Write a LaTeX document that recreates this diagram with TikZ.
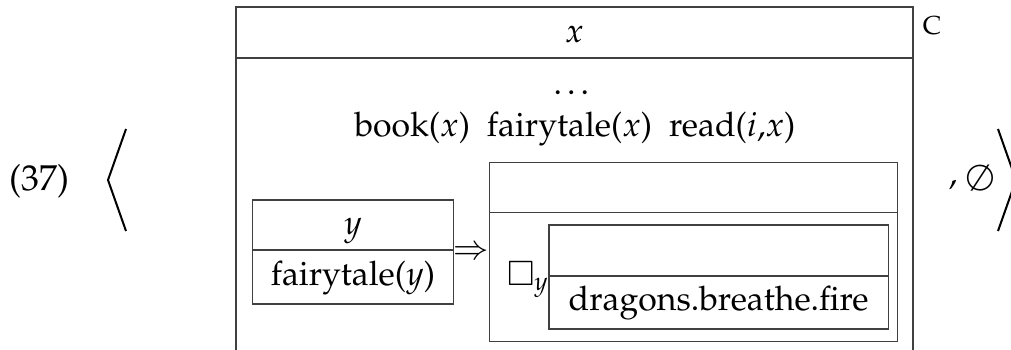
\documentclass[tikz,border=0pt]{standalone}
\usepackage[T1]{fontenc}
\usepackage{mathpazo}
\usepackage{amssymb}
\begin{document}
\begin{tikzpicture}[x=1pt,y=-1pt,
  box/.style={draw=black!75, line width=1.2pt, inner sep=0pt, outer sep=0pt},
  sep/.style={draw=black!75, line width=1.2pt},
  brk/.style={draw=black, line width=2pt, line join=miter},
  txt/.style={inner sep=0pt, outer sep=0pt, font=\fontsize{33.8}{40}\selectfont},
  small/.style={inner sep=0pt, outer sep=0pt, font=\fontsize{26}{30}\selectfont}]
\useasboundingbox (0,0) rectangle (1011,350);
\clip (0,0) rectangle (1011,350);
% outer box (open at the bottom)
\node[box, minimum width=677pt, minimum height=360pt, anchor=north west] (outer) at (236,7) {};
\coordinate (odl) at (236,58);
\coordinate (odr) at (913,58);
\draw[sep] (odl) -- (odr);
% left box
\node[box, minimum width=200.6pt, minimum height=104pt, anchor=north west] (lbox) at (252.7,200) {};
\coordinate (ldl) at (252.7,250);
\coordinate (ldr) at (453.3,250);
\draw[sep] (ldl) -- (ldr);
% right box
\node[box, minimum width=408.4pt, minimum height=179.4pt, anchor=north west] (rbox) at (489.3,162.3) {};
\coordinate (rdl) at (489.3,212.3);
\coordinate (rdr) at (897.7,212.3);
\draw[sep] (rdl) -- (rdr);
% inner box
\node[box, minimum width=339.3pt, minimum height=104pt, anchor=north west] (ibox) at (549,225) {};
\coordinate (idl) at (549,276);
\coordinate (idr) at (888.3,276);
\draw[sep] (idl) -- (idr);
% texts
\node[txt] (xvar) at (574.5,34) {$x$};
\node[small] (clab) at (932,26) {C};
\node[txt, anchor=base] (dots) at (574,95) {\ldots};
\node[txt] (conds) at (575,129) {book($x$)\ \ fairytale($x$)\ \ read($i$,$x$)};
\node[txt] (yvar) at (353,231) {$y$};
\node[txt] (fty) at (353,278) {fairytale($y$)};
\node[txt] (impl) at (471,253) {$\Rightarrow$};
\node[txt, anchor=base west] (boxop) at (507,285) {$\square_y$};
\node[txt] (dbf) at (718.6,303) {dragons.breathe.fire};
\node[txt, font=\fontsize{36}{40}\selectfont] (num) at (39,181.5) {(37)};
\node[txt, anchor=base] (comma) at (953,184) {,};
\node[txt, font=\fontsize{36}{40}\selectfont] (empty) at (980,178) {$\emptyset$};
% angle brackets
\coordinate (la1) at (126,129);
\coordinate (la2) at (108,180);
\coordinate (la3) at (126,231);
\draw[brk] (la1) -- (la2) -- (la3);
\coordinate (ra1) at (998,129);
\coordinate (ra2) at (1016,180);
\coordinate (ra3) at (998,231);
\draw[brk] (ra1) -- (ra2) -- (ra3);
\end{tikzpicture}
\end{document}
